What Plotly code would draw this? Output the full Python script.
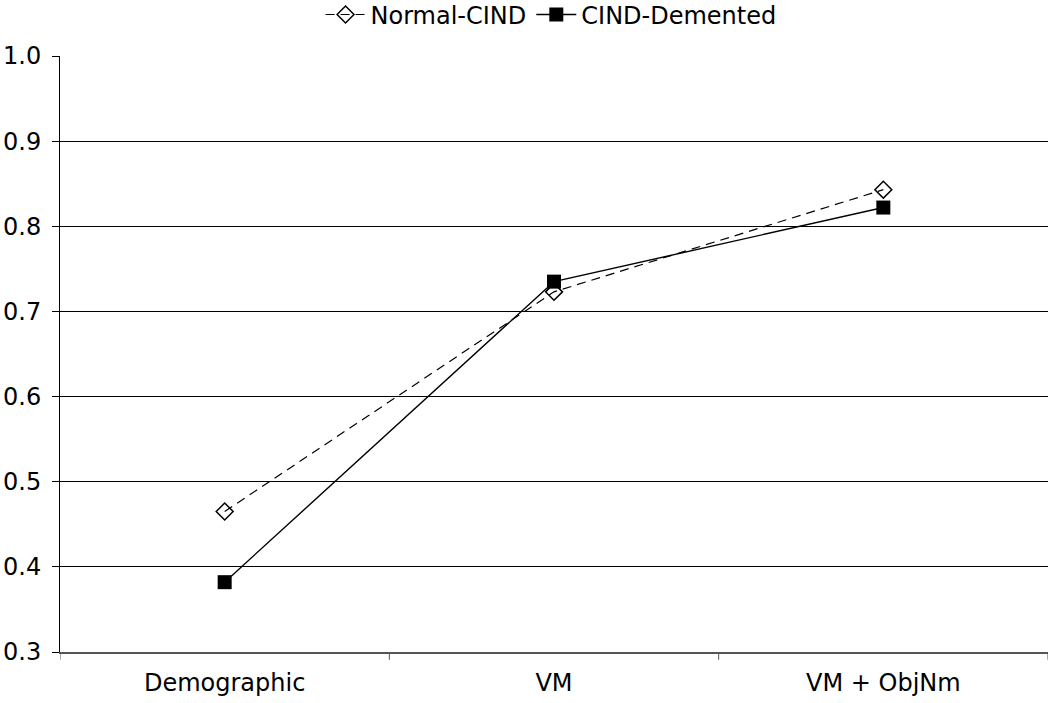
import plotly.graph_objects as go

categories = ["Demographic", "VM", "VM + ObjNm"]
normal_cind = [0.465, 0.723, 0.843]
cind_demented = [0.382, 0.735, 0.822]
y_ticks = [0.3, 0.4, 0.5, 0.6, 0.7, 0.8, 0.9, 1.0]

fig = go.Figure()
fig.add_trace(go.Scatter(
    x=[0, 1, 2], y=normal_cind, name="Normal-CIND", mode="lines+markers",
    line=dict(color="black", width=1.2, dash="9px,6px"),
    marker=dict(symbol="diamond-open", size=13, color="black", line=dict(width=1.5)),
))
fig.add_trace(go.Scatter(
    x=[0, 1, 2], y=cind_demented, name="CIND-Demented", mode="lines+markers",
    line=dict(color="black", width=1.4),
    marker=dict(symbol="square", size=14, color="black"),
))

fig.update_layout(
    width=1050, height=703,
    paper_bgcolor="white", plot_bgcolor="white",
    margin=dict(l=60, r=2, t=56, b=51, autoexpand=False),
    font=dict(family="DejaVu Sans", size=24, color="black"),
    showlegend=True,
    legend=dict(orientation="h", x=0.497, xanchor="center", y=1.069, yanchor="middle",
                yref="paper", font=dict(size=24), itemwidth=40,
                bgcolor="rgba(0,0,0,0)"),
    xaxis=dict(
        range=[-0.5, 2.5], tickmode="array", tickvals=[0, 1, 2], ticktext=categories,
        showgrid=False, showline=True, linecolor="#555555", linewidth=2,
        ticks="", zeroline=False, automargin=False, ticklabelstandoff=8,
    ),
    yaxis=dict(
        range=[0.3, 1.0], tickvals=y_ticks, ticktext=[f"{v:.1f}" for v in y_ticks],
        showgrid=True, gridcolor="black", gridwidth=1,
        showline=True, linecolor="black", linewidth=1,
        ticks="outside", ticklen=7, tickcolor="black", zeroline=False,
        automargin=False, ticklabelstandoff=6,
    ),
)

# category separator ticks on the x axis
for xv in [-0.5, 0.5, 1.5, 2.5]:
    fig.add_shape(type="line", xref="x", yref="paper", x0=xv, x1=xv, y0=0, y1=-0.013,
                  line=dict(color="#555555", width=1))

fig.write_html("out.html", config={"displayModeBar": False},
               post_script="document.body.style.margin='0';")
